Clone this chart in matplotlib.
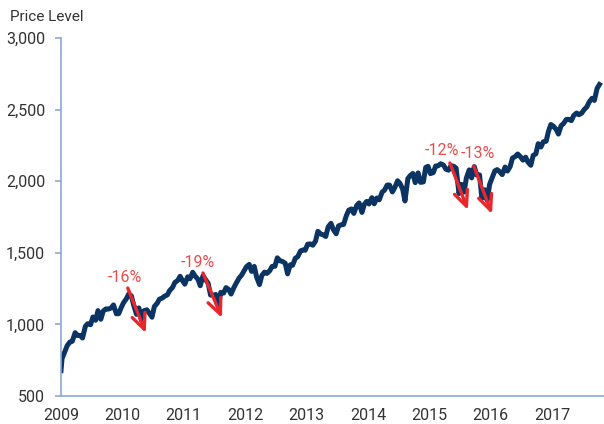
import matplotlib
matplotlib.use("Agg")
import matplotlib.pyplot as plt
import pandas as pd

plt.rcParams['font.family'] = ['Liberation Sans Narrow', 'Roboto', 'DejaVu Sans']

# S&P 500 price level, start point then 1st / 15th of each month
start_date = "2009-03-09"
start_value = 677
values = [
    # 2009 (from Mar 15)
    760, 811, 852, 877, 882, 942, 923, 923, 905, 987, 1005, 998, 1052,
    1029, 1096, 1036, 1093, 1108, 1107,
    # 2010
    1115, 1136, 1074, 1075, 1115, 1150, 1178, 1211, 1200, 1135, 1070, 1115,
    1027, 1095, 1102, 1080, 1050, 1125, 1146, 1176, 1184, 1197, 1206, 1236,
    # 2011
    1258, 1293, 1307, 1336, 1306, 1281, 1332, 1319, 1364, 1338, 1315, 1270,
    1339, 1316, 1287, 1205, 1204, 1209, 1131, 1224, 1219, 1257, 1244, 1212,
    # 2012
    1258, 1289, 1324, 1343, 1374, 1402, 1419, 1370, 1405, 1330, 1278, 1342,
    1365, 1356, 1375, 1405, 1406, 1465, 1444, 1440, 1427, 1353, 1416, 1413,
    # 2013
    1462, 1472, 1513, 1520, 1518, 1560, 1562, 1553, 1582, 1650, 1631, 1626,
    1614, 1680, 1706, 1662, 1633, 1688, 1695, 1698, 1761, 1798, 1806, 1775,
    # 2014
    1831, 1848, 1782, 1838, 1859, 1841, 1885, 1842, 1883, 1870, 1924, 1937,
    1973, 1973, 1925, 1955, 2003, 1985, 1946, 1862, 2018, 2039, 2054, 1990,
    # 2015
    2058, 1992, 1995, 2096, 2104, 2053, 2060, 2106, 2108, 2122, 2112, 2084,
    2077, 2108, 2104, 2091, 1914, 1978, 1924, 2023, 2079, 2023, 2102, 2043,
    # 2016
    2044, 1880, 1940, 1865, 1978, 2020, 2072, 2081, 2065, 2046, 2099, 2071,
    2102, 2161, 2173, 2190, 2170, 2147, 2168, 2133, 2111, 2180, 2191, 2262,
    # 2017
    2239, 2275, 2279, 2349, 2396, 2385, 2363, 2329, 2388, 2402, 2431, 2432,
    2423, 2459, 2476, 2464, 2476, 2500, 2519, 2553, 2579, 2564, 2648, 2675,
]

# drawdown annotations
dd_labels = ["-16%", "-19%", "-12%", "-13%"]
dd_start_dates = ["2010-04-10", "2011-07-01", "2015-07-09", "2015-11-28"]
dd_start_values = [1254, 1359, 2127, 2106]
dd_end_dates = ["2010-07-26", "2011-10-22", "2015-10-24", "2016-03-15"]
dd_end_values = [940, 1045, 1799, 1771]
dd_text_dates = ["2010-03-25", "2011-06-01", "2015-05-22", "2015-12-24"]
dd_text_values = [1331, 1429, 2211, 2190]

year_labels = ["2009", "2010", "2011", "2012", "2013", "2014", "2015", "2016", "2017"]
y_ticks = [500, 1000, 1500, 2000, 2500, 3000]


def frac_year(d):
    d = pd.Timestamp(d)
    return d.year + (d.dayofyear - 1) / 365.25


dates = [pd.Timestamp(start_date)] + list(pd.date_range("2009-03-15", periods=len(values), freq="SMS"))
x = [frac_year(d) for d in dates]
y = [start_value] + values
x0 = frac_year(start_date)

navy = "#0b3463"
red = "#e8262c"
axis_blue = "#8aa8d8"
text_col = "#333333"

fig = plt.figure(figsize=(6.04, 4.24), dpi=100)
ax = fig.add_axes([61 / 604, 1 - 396 / 424, 543 / 604, 358 / 424])

ax.plot(x, y, color=navy, lw=3.6, solid_joinstyle="round")

for lab, sd, sv, ed, ev, td, tv in zip(dd_labels, dd_start_dates, dd_start_values,
                                       dd_end_dates, dd_end_values, dd_text_dates, dd_text_values):
    ax.annotate("", xy=(frac_year(ed), ev), xytext=(frac_year(sd), sv),
                arrowprops=dict(arrowstyle="->,head_length=1.0,head_width=0.45",
                                color=red, lw=2.4, shrinkA=0, shrinkB=0),
                fontsize=11)
    ax.text(frac_year(td), tv, lab, color="#ef4b4b", fontsize=11.5,
            ha="center", va="center")

ax.set_ylim(500, 3000)
ax.set_xlim(x0, x0 + 543 / 61.4)
ax.set_yticks(y_ticks)
ax.set_yticklabels([f"{v:,}" for v in y_ticks])
ax.set_xticks([x0 + i for i in range(len(year_labels))])
ax.set_xticklabels(year_labels)

for s in ["top", "right"]:
    ax.spines[s].set_visible(False)
for s in ["left", "bottom"]:
    ax.spines[s].set_color(axis_blue)
    ax.spines[s].set_linewidth(1.2)

ax.tick_params(axis="y", length=4.5, width=1.2, color=axis_blue, pad=7,
               labelsize=11.5, labelcolor=text_col)
ax.tick_params(axis="x", length=0, pad=9, labelsize=11.5, labelcolor=text_col)

fig.text(10 / 604, 1 - 17 / 424, "Price Level", fontsize=11, color=text_col,
         ha="left", va="center")

fig.savefig("out.png", dpi=100)
